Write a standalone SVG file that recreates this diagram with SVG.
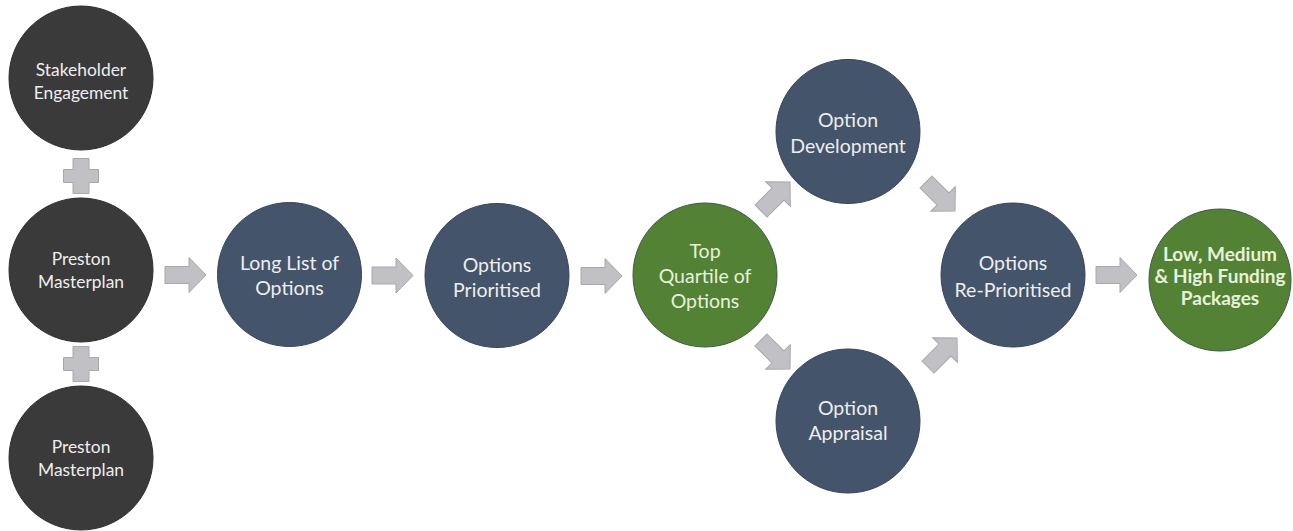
<svg xmlns="http://www.w3.org/2000/svg" width="1293" height="531" viewBox="0 0 1293 531">
<defs>
<style>
.dark{fill:#3a3a3a;stroke:#2e2e2e;stroke-width:1}
.navy{fill:#44546a;stroke:#36445a;stroke-width:1}
.green{fill:#548235;stroke:#3d5a48;stroke-width:1}
.arr{fill:#c1c1c5;stroke:#a8a8ac;stroke-width:1}
.t{font-family:Lato,"Liberation Sans",sans-serif;fill:#eeeeee;text-anchor:middle}
.s{font-size:17.4px}
.m{font-size:19.5px}
.g{fill:#e6f2dc}
.b{font-size:19px;font-weight:bold}
</style>
<path id="ar" d="M-41,-8.5 L-17,-8.5 L-17,-17.5 L0,0 L-17,17.5 L-17,8.5 L-41,8.5 Z"/>
<path id="plus" d="M-8,-17.5 H8 V-6.5 H17.5 V6.5 H8 V17.5 H-8 V6.5 H-17.5 V-6.5 H-8 Z"/>
</defs>
<rect width="1293" height="531" fill="#ffffff"/>
<g id="connectors">
<use href="#plus" class="arr" x="81" y="176"/>
<use href="#plus" class="arr" x="81" y="364"/>
<use href="#ar" class="arr" transform="translate(206,275)"/>
<use href="#ar" class="arr" transform="translate(413,275.5)"/>
<use href="#ar" class="arr" transform="translate(622,276)"/>
<use href="#ar" class="arr" transform="translate(790,182) rotate(-45)"/>
<use href="#ar" class="arr" transform="translate(790,369) rotate(45)"/>
<use href="#ar" class="arr" transform="translate(955,211) rotate(45)"/>
<use href="#ar" class="arr" transform="translate(957,338) rotate(-45)"/>
<use href="#ar" class="arr" transform="translate(1137,275)"/>
</g>
<g id="stakeholder">
<circle class="dark" cx="81" cy="78" r="72"/>
<text class="t s" x="81" y="76">Stakeholder</text>
<text class="t s" x="81" y="99">Engagement</text>
</g>
<g id="preston1">
<circle class="dark" cx="81" cy="270" r="72"/>
<text class="t s" x="81" y="265">Preston</text>
<text class="t s" x="81" y="288">Masterplan</text>
</g>
<g id="preston2">
<circle class="dark" cx="81" cy="458" r="72"/>
<text class="t s" x="81" y="453">Preston</text>
<text class="t s" x="81" y="476">Masterplan</text>
</g>
<g id="longlist">
<circle class="navy" cx="289.5" cy="274.5" r="72"/>
<text class="t m" x="289.5" y="270">Long List of</text>
<text class="t m" x="289.5" y="295">Options</text>
</g>
<g id="prioritised">
<circle class="navy" cx="497" cy="275.5" r="72"/>
<text class="t m" x="497" y="272">Options</text>
<text class="t m" x="497" y="297">Prioritised</text>
</g>
<g id="topquartile">
<circle class="green" cx="705" cy="275" r="72"/>
<text class="t m g" x="705" y="258">Top</text>
<text class="t m g" x="705" y="283">Quartile of</text>
<text class="t m g" x="705" y="308">Options</text>
</g>
<g id="development">
<circle class="navy" cx="848" cy="131.5" r="72"/>
<text class="t m" x="848" y="127">Option</text>
<text class="t m" x="848" y="153">Development</text>
</g>
<g id="appraisal">
<circle class="navy" cx="848" cy="421" r="72"/>
<text class="t m" x="848" y="415">Option</text>
<text class="t m" x="848" y="440">Appraisal</text>
</g>
<g id="reprioritised">
<circle class="navy" cx="1013" cy="275" r="72"/>
<text class="t m" x="1013" y="270">Options</text>
<text class="t m" x="1013" y="297">Re-Prioritised</text>
</g>
<g id="funding">
<circle class="green" cx="1220" cy="280" r="71"/>
<text class="t b g" x="1220" y="261">Low, Medium</text>
<text class="t b g" x="1220" y="283">&amp; High Funding</text>
<text class="t b g" x="1220" y="305">Packages</text>
</g>
</svg>
